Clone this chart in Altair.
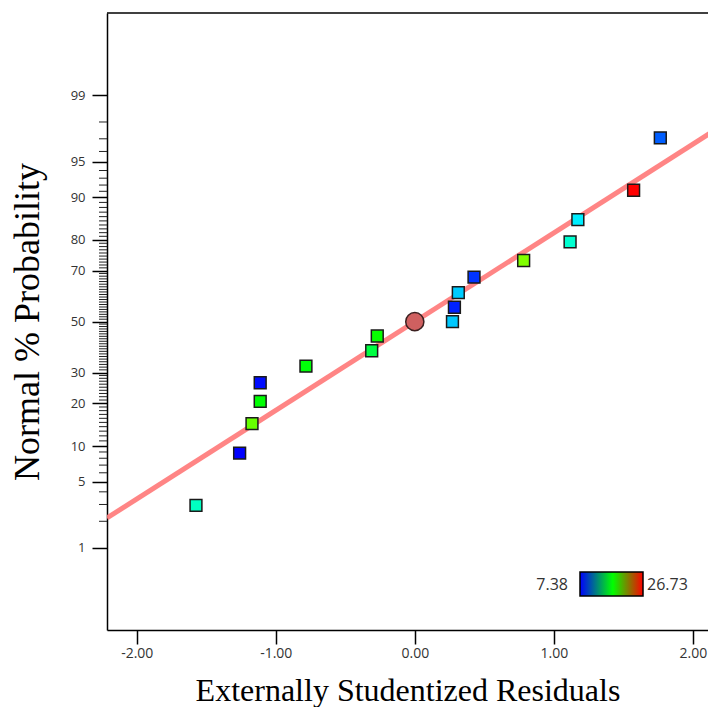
import altair as alt
import pandas as pd
from statistics import NormalDist

ND = NormalDist()

# ---- data ----
residuals = [-1.574, -1.260, -1.171, -1.112, -1.112, -0.783, -0.310, -0.270,
             0.271, 0.285, 0.313, 0.426, 0.783, 1.117, 1.173, 1.574, 1.766]
probability = [2.94, 8.82, 14.71, 20.59, 26.47, 32.35, 38.24, 44.12, 50.00,
               55.88, 61.76, 67.65, 73.53, 79.41, 85.29, 91.18, 97.06]
response = [13.4, 7.38, 19.0, 17.0, 7.6, 16.9, 15.8, 17.2, 11.2, 8.0,
            11.25, 8.35, 19.5, 13.1, 11.9, 26.73, 9.16]

center_resid = [0.0]
center_prob = [50.0]

fit_resid = [-2.214, 2.167]
fit_prob = [2.17, 97.6]

major_pct = [1, 5, 10, 20, 30, 50, 70, 80, 90, 95, 99]
minor_pct = [p for p in range(1, 100) if p not in major_pct]
x_ticks = [-2, -1, 0, 1, 2]

legend_lo = [7.38]
legend_hi = [26.73]

def z(p):
    return ND.inv_cdf(p / 100.0)

pts = pd.DataFrame({"resid": residuals, "prob": probability, "resp": response})
pts["z"] = [z(p) for p in probability]
ctr = pd.DataFrame({"resid": center_resid, "prob": center_prob})
ctr["z"] = [z(p) for p in center_prob]
fit = pd.DataFrame({"resid": fit_resid, "prob": fit_prob})
fit["z"] = [z(p) for p in fit_prob]
minor = pd.DataFrame({"pct": minor_pct})
minor["z"] = [z(p) for p in minor_pct]
leg = pd.DataFrame({"lo": legend_lo, "hi": legend_hi})

W, H = 601, 617
xscale = alt.Scale(domain=[-2.214, 2.109], nice=False, zero=False)
yscale = alt.Scale(domain=[-3.172, 3.175], nice=False, zero=False)

xaxis = alt.Axis(values=x_ticks,
                 labelExpr="(datum.value < 0 ? '-' : '') + format(abs(datum.value), '.2f')",
                 tickSize=14, tickWidth=1.5, domainWidth=1.5, domainColor="black",
                 tickColor="black", labelPadding=2, labelFontSize=14,
                 labelColor="#333333", labelFont="Open Sans", labelFlush=False,
                 grid=False, titleFont="Liberation Serif", titleFontSize=32,
                 titleFontWeight="normal", titleColor="black",
                 titleY=70, titleBaseline="alphabetic")
yaxis = alt.Axis(values=[z(p) for p in major_pct],
                 labelExpr="format(round(cumulativeNormal(datum.value) * 100), 'd')",
                 tickSize=15, tickWidth=1.5, domainWidth=1.5, domainColor="black",
                 tickColor="black", labelPadding=7, labelFontSize=13,
                 labelColor="#333333", labelFont="Open Sans", labelFlush=False,
                 labelOverlap=False, grid=False,
                 titleFont="Liberation Serif", titleFontSize=36,
                 titleFontWeight="normal", titleColor="black",
                 titleX=-69, titleBaseline="alphabetic")

XT = "Externally Studentized Residuals"
YT = "Normal % Probability"

def X():
    return alt.X("resid:Q", scale=xscale, axis=xaxis, title=XT)

def Y():
    return alt.Y("z:Q", scale=yscale, axis=yaxis, title=YT)

line = alt.Chart(fit).mark_line(color="#ff7878", strokeWidth=5, opacity=0.9,
                                clip=True).encode(x=X(), y=Y())

squares = alt.Chart(pts).mark_square(size=140, opacity=1, stroke="#1a1a1a",
                                     strokeWidth=1.5).encode(
    x=X(), y=Y(),
    color=alt.Color("resp:Q", legend=None,
                    scale=alt.Scale(domain=[7.38, 17.055, 26.73],
                                    range=["#0000ff", "#00ff00", "#ff0000"],
                                    interpolate="hsl")))

circle = alt.Chart(ctr).mark_circle(size=330, color="#cf6060", opacity=1,
                                    stroke="#3b2020", strokeWidth=1.5).encode(
    x=X(), y=Y())

minor_ticks = alt.Chart(minor).mark_rule(color="#222222", strokeWidth=1).encode(
    y=Y(), x=alt.value(-8), x2=alt.value(0))

frame_top = alt.Chart(leg).mark_rule(color="black", strokeWidth=1.5).encode(
    x=alt.value(0), x2=alt.value(W), y=alt.value(0))

grad = {"gradient": "linear", "x1": 0, "x2": 1, "y1": 0, "y2": 0,
        "stops": [{"offset": 0, "color": "#0000ff"},
                  {"offset": 0.52, "color": "#00ff00"},
                  {"offset": 1, "color": "#ff0000"}]}
leg_rect = alt.Chart(leg).mark_rect(fill=grad, stroke="black", strokeWidth=1.5).encode(
    x=alt.value(473), x2=alt.value(536), y=alt.value(559), y2=alt.value(583))
leg_lo = alt.Chart(leg).mark_text(align="right", baseline="middle", fontSize=16,
                                  font="Open Sans", color="#333333").encode(
    text=alt.Text("lo:Q", format=".2f"), x=alt.value(461), y=alt.value(572))
leg_hi = alt.Chart(leg).mark_text(align="left", baseline="middle", fontSize=16,
                                  font="Open Sans", color="#333333").encode(
    text=alt.Text("hi:Q", format=".2f"), x=alt.value(540), y=alt.value(572))

chart = alt.layer(line, squares, circle, minor_ticks, frame_top,
                  leg_rect, leg_lo, leg_hi).properties(
    width=W, height=H,
    autosize=alt.AutoSizeParams(type="none"),
    padding={"left": 99, "top": 5, "right": 0, "bottom": 77},
    background="white",
).configure_view(stroke=None)

chart.save("out.html", embed_options={"renderer": "svg", "actions": False})
